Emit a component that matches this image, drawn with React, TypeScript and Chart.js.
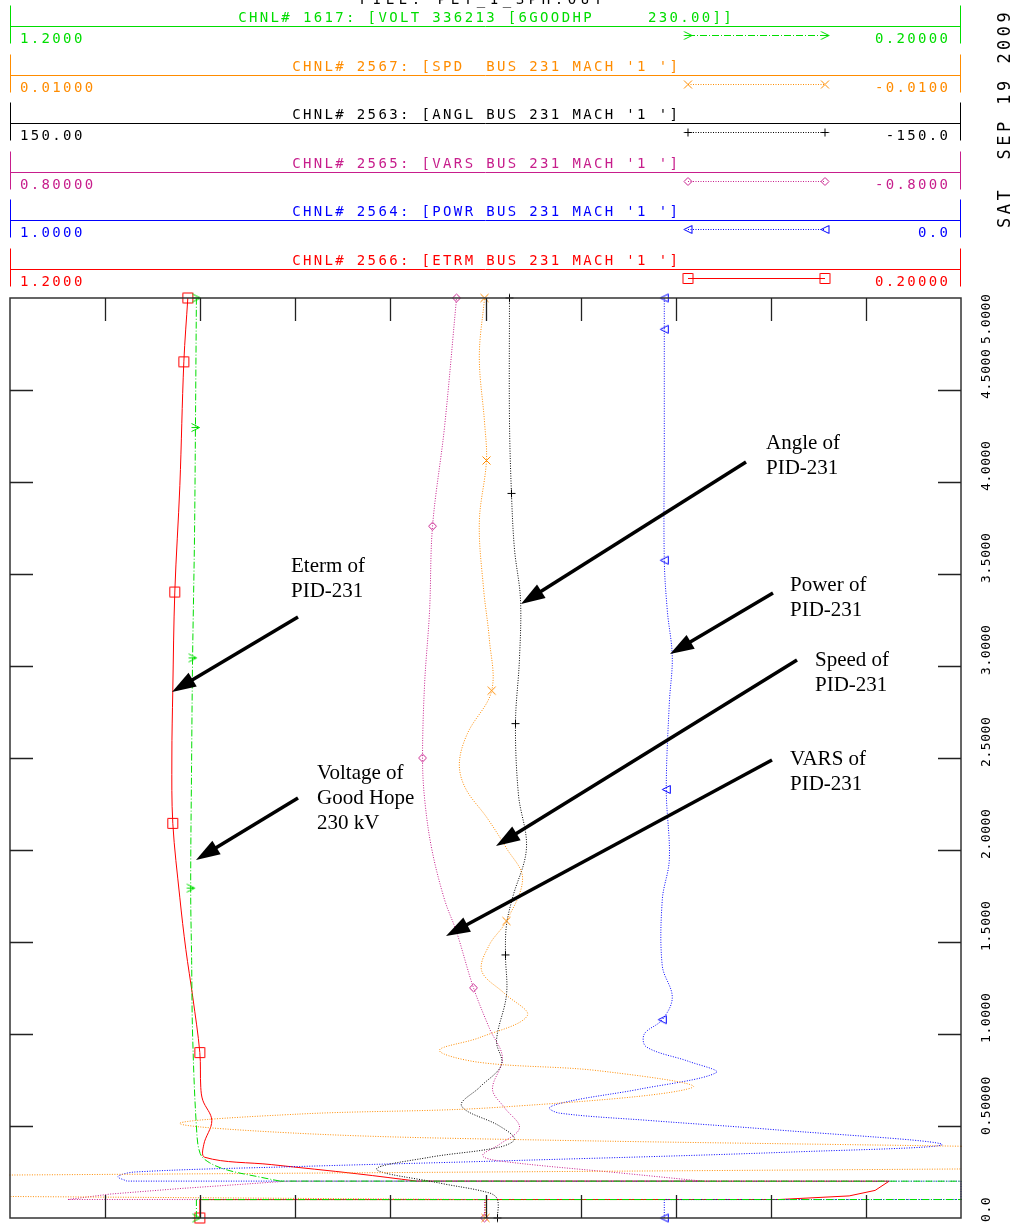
import React, { useEffect, useRef } from 'react';
import { Chart, registerables } from 'chart.js';

Chart.register(...registerables);

// ---------------- time axis ----------------
const timeTicks = [0, 0.5, 1, 1.5, 2, 2.5, 3, 3.5, 4, 4.5, 5];
const timeTickLabels = ['0.0', '0.50000', '1.0000', '1.5000', '2.0000', '2.5000', '3.0000', '3.5000', '4.0000', '4.5000', '5.0000'];
const xDivisions = [0.3, 0.4, 0.5, 0.6, 0.7, 0.8, 0.9, 1.0, 1.1];

// ---------------- CHNL 1617 VOLT ----------------
const voltTime = [0, 0.1, 0.1005, 0.2, 0.2005, 0.22, 0.26, 0.3, 0.35, 0.5, 1.0, 1.4, 1.793, 2.5, 3.044, 3.7, 4.296, 5.0];
const voltValues = [1.004, 1.004, 0.1, 0.1, 0.916, 0.935, 0.971, 0.99, 1.0, 1.004, 1.008, 1.009, 1.01, 1.009, 1.008, 1.006, 1.005, 1.004];
const voltMarkers = [0, 1.793, 3.044, 4.296, 5.0];

// ---------------- CHNL 2567 SPD ----------------
const speedTime = [0, 0.1, 0.135, 0.17, 0.216, 0.285, 0.33, 0.375, 0.39, 0.428, 0.46, 0.514, 0.565, 0.602, 0.709, 0.8, 0.846, 0.911, 0.98, 1.1, 1.22, 1.343, 1.484, 1.614, 1.847, 2.01, 2.172, 2.335, 2.47, 2.633, 2.866, 3.147, 3.418, 3.781, 4.117, 4.323, 4.68, 5.0];
const speedValues = [0, 0, 0.02071, 0.02492, 0.02071, -0.0213, -0.0255, -0.0171, -0.01, -0.00029, 0.00391, 0.00643, 0.00391, -0.00029, -0.00435, -0.00239, 0.00013, 0.00097, 0.00013, -0.00088, -0.0004, 0.00008, -0.00008, -0.00044, -0.00078, -0.00044, -0.00004, 0.00042, 0.00055, 0.00038, -0.00013, -0.00008, 0.00004, 0.00013, -0.00002, 0.00002, 0.00013, 0.00002];
const speedMarkers = [0, 1.614, 2.866, 4.117, 5.0];

// ---------------- CHNL 2563 ANGL ----------------
const angleTime = [0, 0.1, 0.136, 0.19, 0.265, 0.33, 0.385, 0.43, 0.5, 0.61, 0.71, 0.834, 0.964, 1.213, 1.43, 1.593, 1.739, 2.01, 2.3, 2.687, 3.04, 3.364, 3.635, 3.938, 4.34, 5.0];
const angleValues = [-3.78, -3.78, -1.26, 14.49, 34.35, 17.65, -4.41, -9.14, -4.41, 7.56, 1.89, -5.04, -3.47, -6.62, -6.3, -6.62, -8.51, -12.92, -10.4, -9.46, -10.72, -11.03, -9.14, -8.19, -7.56, -7.56];
const angleMarkers = [0, 1.43, 2.687, 3.938, 5.0];

// ---------------- CHNL 2565 VARS ----------------
const varsTime = [0, 0.1, 0.1005, 0.13, 0.16, 0.2, 0.2005, 0.24, 0.31, 0.34, 0.4, 0.49, 0.6, 0.7, 0.87, 1.03, 1.251, 1.555, 1.73, 2.01, 2.28, 2.5, 2.9, 3.3, 3.76, 4.3, 5.0];
const varsValues = [0.0017, 0.0017, 0.7025, 0.6319, 0.5143, 0.3345, -0.3647, -0.242, -0.0235, 0.005, -0.0235, -0.0572, -0.0319, -0.0118, -0.0286, -0.0067, 0.0202, 0.0487, 0.0689, 0.0907, 0.1025, 0.1059, 0.1025, 0.0941, 0.0891, 0.0689, 0.0487];
const varsMarkers = [0, 1.251, 2.5, 3.76, 5.0];

// ---------------- CHNL 2564 POWR ----------------
const powerTime = [0, 0.1, 0.1005, 0.2, 0.2005, 0.225, 0.25, 0.28, 0.31, 0.36, 0.4, 0.48, 0.53, 0.57, 0.6, 0.64, 0.7, 0.79, 0.85, 0.93, 1.0, 1.078, 1.2, 1.37, 1.73, 1.95, 2.329, 2.8, 3.05, 3.3, 3.575, 4.2, 4.83, 5.0];
const powerValues = [0.312, 0.312, 0.0, 0.0, 0.8771, 0.8866, 0.8687, 0.6954, 0.4853, 0.1702, 0.02, 0.1964, 0.3277, 0.4223, 0.4328, 0.4065, 0.3382, 0.2574, 0.2857, 0.3309, 0.333, 0.3141, 0.3036, 0.3141, 0.3141, 0.3067, 0.3099, 0.3067, 0.3036, 0.3088, 0.312, 0.312, 0.312, 0.312];
const powerMarkers = [0, 1.078, 2.329, 3.575, 4.83, 5.0];

// ---------------- CHNL 2566 ETRM ----------------
const etermTime = [0, 0.1, 0.1005, 0.12, 0.15, 0.2, 0.2005, 0.24, 0.29, 0.33, 0.4, 0.53, 0.64, 0.71, 0.899, 1.2, 1.46, 1.74, 2.145, 2.5, 2.87, 3.402, 3.98, 4.653, 5.0];
const etermValues = [1.0004, 1.0004, 0.3912, 0.3176, 0.2903, 0.2756, 0.7725, 0.8345, 0.9248, 0.9952, 0.9962, 0.9878, 0.9973, 0.9994, 1.0004, 1.0078, 1.0151, 1.0214, 1.0288, 1.0298, 1.0288, 1.0267, 1.0214, 1.0172, 1.013];
const etermMarkers = [0, 0.899, 2.145, 3.402, 4.653, 5.0];

type Channel = {
  title: string; left: string; right: string; axis: string; min: number; max: number;
  color: string; dash: number[]; marker: string; time: number[]; values: number[]; markers: number[]; split: number;
};

const channels: Channel[] = [
  { title: 'CHNL# 1617: [VOLT 336213 [6GOODHP     230.00]]', left: '1.2000', right: '0.20000', axis: 'xVolt', min: 0.2, max: 1.2, color: '#00dd00', dash: [7, 2, 1, 2], marker: 'chevron', time: voltTime, values: voltValues, markers: voltMarkers, split: 0.2005 },
  { title: "CHNL# 2567: [SPD  BUS 231 MACH '1 ']", left: '0.01000', right: '-0.0100', axis: 'xSpeed', min: -0.01, max: 0.01, color: '#ff8c00', dash: [1, 1.5], marker: 'x', time: speedTime, values: speedValues, markers: speedMarkers, split: 0.39 },
  { title: "CHNL# 2563: [ANGL BUS 231 MACH '1 ']", left: '150.00', right: '-150.0', axis: 'xAngle', min: -150, max: 150, color: '#000000', dash: [1, 1.5], marker: 'plus', time: angleTime, values: angleValues, markers: angleMarkers, split: 0 },
  { title: "CHNL# 2565: [VARS BUS 231 MACH '1 ']", left: '0.80000', right: '-0.8000', axis: 'xVars', min: -0.8, max: 0.8, color: '#c71e8c', dash: [1, 1.5], marker: 'diamond', time: varsTime, values: varsValues, markers: varsMarkers, split: 0.2005 },
  { title: "CHNL# 2564: [POWR BUS 231 MACH '1 ']", left: '1.0000', right: '0.0', axis: 'xPower', min: 0, max: 1, color: '#0000ff', dash: [1, 1.5], marker: 'tri', time: powerTime, values: powerValues, markers: powerMarkers, split: 0.2005 },
  { title: "CHNL# 2566: [ETRM BUS 231 MACH '1 ']", left: '1.2000', right: '0.20000', axis: 'xEterm', min: 0.2, max: 1.2, color: '#ff0000', dash: [], marker: 'square', time: etermTime, values: etermValues, markers: etermMarkers, split: 0.2005 },
];

const notes = [
  { lines: ['Angle of', 'PID-231'], x: 766, y: 449, from: [746, 462], to: [521, 604] },
  { lines: ['Eterm of', 'PID-231'], x: 291, y: 572, from: [298, 617], to: [172, 692] },
  { lines: ['Power of', 'PID-231'], x: 790, y: 591, from: [773, 593], to: [670, 654] },
  { lines: ['Speed of', 'PID-231'], x: 815, y: 666, from: [797, 660], to: [496, 846] },
  { lines: ['Voltage of', 'Good Hope', '230 kV'], x: 317, y: 779, from: [298, 798], to: [196, 860] },
  { lines: ['VARS of', 'PID-231'], x: 790, y: 765, from: [772, 760], to: [446, 936] },
];

const MONO = '"DejaVu Sans Mono", "Liberation Mono", monospace';

function makeMarker(shape: string, color: string): HTMLCanvasElement {
  const c = document.createElement('canvas');
  c.width = 13; c.height = 13;
  const g = c.getContext('2d')!;
  g.strokeStyle = color; g.lineWidth = 1;
  g.beginPath();
  if (shape === 'chevron') { g.moveTo(2.5, 2.5); g.lineTo(10.5, 6.5); g.lineTo(2.5, 10.5); g.moveTo(2.5, 6.5); g.lineTo(10.5, 6.5); }
  else if (shape === 'x') { g.moveTo(2.5, 2.5); g.lineTo(10.5, 10.5); g.moveTo(10.5, 2.5); g.lineTo(2.5, 10.5); }
  else if (shape === 'plus') { g.moveTo(6.5, 2.5); g.lineTo(6.5, 10.5); g.moveTo(2.5, 6.5); g.lineTo(10.5, 6.5); }
  else if (shape === 'diamond') { g.moveTo(6.5, 2.5); g.lineTo(10.5, 6.5); g.lineTo(6.5, 10.5); g.lineTo(2.5, 6.5); g.closePath(); }
  else if (shape === 'tri') { g.moveTo(2.5, 6.5); g.lineTo(10.5, 2.5); g.lineTo(10.5, 10.5); g.closePath(); }
  else { g.rect(1.5, 1.5, 10, 10); }
  g.stroke();
  return c;
}

function monoText(ctx: CanvasRenderingContext2D, s: string, x: number, y: number, step: number) {
  for (let i = 0; i < s.length; i++) ctx.fillText(s[i], x + i * step, y);
}

function arrow(ctx: CanvasRenderingContext2D, x1: number, y1: number, x2: number, y2: number) {
  const ang = Math.atan2(y2 - y1, x2 - x1);
  const hl = 24, hw = 8;
  const bx = x2 - hl * Math.cos(ang), by = y2 - hl * Math.sin(ang);
  ctx.lineWidth = 3.5;
  ctx.beginPath(); ctx.moveTo(x1, y1); ctx.lineTo(bx + 2 * Math.cos(ang), by + 2 * Math.sin(ang)); ctx.stroke();
  ctx.beginPath();
  ctx.moveTo(x2, y2);
  ctx.lineTo(bx + hw * Math.sin(ang), by - hw * Math.cos(ang));
  ctx.lineTo(bx - hw * Math.sin(ang), by + hw * Math.cos(ang));
  ctx.closePath(); ctx.fill();
}

export default function App() {
  const ref = useRef<HTMLCanvasElement | null>(null);

  useEffect(() => {
    const canvas = ref.current!;
    const markerImgs = channels.map(ch => makeMarker(ch.marker, ch.color));

    const datasets: any[] = [];
    channels.forEach((ch, ci) => {
      const pts = ch.time.map((t, i) => ({ x: ch.values[i], y: t }));
      const clip = { left: 1, right: 1, top: 10, bottom: 10 };
      const common = { xAxisID: ch.axis, yAxisID: 'y', showLine: true, borderColor: ch.color, borderWidth: 1, borderDash: ch.dash, pointRadius: 0, clip };
      if (ch.split > 0) {
        datasets.push({ ...common, data: pts.filter(p => p.y <= ch.split), tension: 0 });
        datasets.push({ ...common, data: pts.filter(p => p.y >= ch.split), tension: 0.35 });
      } else {
        datasets.push({ ...common, data: pts, tension: 0.35 });
      }
      datasets.push({
        xAxisID: ch.axis, yAxisID: 'y', showLine: false,
        data: pts.filter(p => ch.markers.includes(p.y)),
        pointStyle: markerImgs[ci], pointRadius: 5, borderColor: ch.color, backgroundColor: 'transparent', clip: false,
      });
    });

    const scales: any = { y: { type: 'linear', min: 0, max: 5, display: false } };
    channels.forEach(ch => { scales[ch.axis] = { type: 'linear', axis: 'x', min: ch.min, max: ch.max, reverse: true, display: false }; });

    const overlay = {
      id: 'overlay',
      afterDraw(chart: any) {
        const ctx: CanvasRenderingContext2D = chart.ctx;
        const a = chart.chartArea;
        const ys = chart.scales.y;
        const xs = chart.scales.xVolt;
        ctx.save();
        // frame
        ctx.setLineDash([]);
        ctx.strokeStyle = '#333'; ctx.lineWidth = 1.5;
        ctx.strokeRect(a.left, a.top, a.right - a.left, a.bottom - a.top);
        // ticks
        ctx.lineWidth = 1.3; ctx.strokeStyle = '#222';
        ctx.beginPath();
        timeTicks.filter(t => t > ys.min && t < ys.max).forEach(t => {
          const y = Math.round(ys.getPixelForValue(t)) + 0.5;
          ctx.moveTo(a.left, y); ctx.lineTo(a.left + 23, y);
          ctx.moveTo(a.right, y); ctx.lineTo(a.right - 23, y);
        });
        xDivisions.forEach(v => {
          const x = Math.round(xs.getPixelForValue(v)) + 0.5;
          ctx.moveTo(x, a.top); ctx.lineTo(x, a.top + 23);
          ctx.moveTo(x, a.bottom); ctx.lineTo(x, a.bottom - 23);
        });
        ctx.stroke();
        // time labels (rotated)
        ctx.fillStyle = '#000';
        ctx.font = '13px ' + MONO;
        ctx.textBaseline = 'alphabetic';
        const lstep = 8.4;
        timeTicks.forEach((t, i) => {
          const s = timeTickLabels[i];
          const len = (s.length - 1) * lstep + 8;
          let start = Math.min(ys.getPixelForValue(t) + 9, 1222);
          if (start - len < 294) start = 294 + len;
          ctx.save();
          ctx.translate(990, start);
          ctx.rotate(-Math.PI / 2);
          monoText(ctx, s, 0, 0, lstep);
          ctx.restore();
        });
        // date
        ctx.font = '17px ' + MONO;
        ctx.save();
        ctx.translate(1010, 228);
        ctx.rotate(-Math.PI / 2);
        monoText(ctx, 'SAT  SEP 19 2009', 0, 0, 13.7);
        ctx.restore();
        // file title
        ctx.font = '14px ' + MONO;
        const step = 10.78;
        const fileT = 'FILE: PLT_1_SPH.OUT';
        monoText(ctx, fileT, 481 - ((fileT.length - 1) * 13 + 8.4) / 2, 4, 13);
        // header rows
        channels.forEach((ch, i) => {
          const ly = Math.round(26 + i * 48.6) + 0.5;
          ctx.strokeStyle = ch.color; ctx.fillStyle = ch.color; ctx.lineWidth = 1; ctx.setLineDash([]);
          ctx.beginPath();
          ctx.moveTo(a.left, ly); ctx.lineTo(a.right, ly);
          ctx.moveTo(a.left + 0.5, ly - 21); ctx.lineTo(a.left + 0.5, ly + 17);
          ctx.moveTo(a.right - 0.5, ly - 21); ctx.lineTo(a.right - 0.5, ly + 17);
          ctx.stroke();
          ctx.font = '14px ' + MONO;
          monoText(ctx, ch.title, 485 - ((ch.title.length - 1) * step + 8.4) / 2, ly - 5, step);
          monoText(ctx, ch.left, 20, ly + 16, step);
          monoText(ctx, ch.right, 948 - ((ch.right.length - 1) * step + 8.4), ly + 16, step);
          // legend sample
          const sy = Math.round(ly + 8) + 0.5;
          ctx.setLineDash(ch.dash);
          ctx.beginPath(); ctx.moveTo(688, sy); ctx.lineTo(825, sy); ctx.stroke();
          ctx.setLineDash([]);
          const img = markerImgs[i];
          ctx.drawImage(img, 688 - 6.5, sy - 6.5);
          ctx.drawImage(img, 825 - 6.5, sy - 6.5);
        });
        // annotations
        ctx.fillStyle = '#000'; ctx.strokeStyle = '#000';
        ctx.font = '21px "Liberation Serif", "Times New Roman", serif';
        notes.forEach(n => {
          n.lines.forEach((l, k) => ctx.fillText(l, n.x, n.y + k * 25));
          arrow(ctx, n.from[0], n.from[1], n.to[0], n.to[1]);
        });
        ctx.restore();
      },
    };

    const chart = new Chart(canvas, {
      type: 'scatter',
      data: { datasets },
      options: {
        responsive: false,
        animation: false,
        events: [],
        layout: { padding: { left: 10, right: 52, top: 298, bottom: 3 } },
        elements: { line: { capBezierPoints: false } as any },
        plugins: { legend: { display: false }, tooltip: { enabled: false } },
        scales,
      },
      plugins: [overlay],
    });
    return () => chart.destroy();
  }, []);

  return (
    <div style={{ position: 'absolute', left: 0, top: 0, width: 1013, height: 1224, background: '#fff' }}>
      <canvas ref={ref} width={1013} height={1224} style={{ width: 1013, height: 1224, display: 'block' }} />
    </div>
  );
}
